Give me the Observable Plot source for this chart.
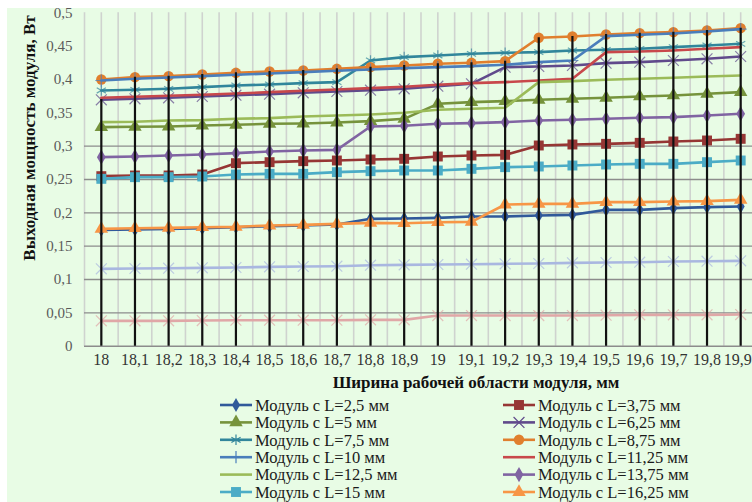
<!DOCTYPE html>
<html><head><meta charset="utf-8">
<script src="https://cdn.jsdelivr.net/npm/d3@7"></script>
<script src="https://cdn.jsdelivr.net/npm/@observablehq/plot@0.6"></script>
<style>
html,body{margin:0;padding:0;background:#fff;width:752px;height:502px;overflow:hidden;}
#bg{position:absolute;left:7px;top:8px;width:745px;height:494px;background:#e8fce5;}
#chart{position:absolute;left:0;top:0;}
#legend{position:absolute;left:0;top:395px;}
#ytitle{position:absolute;left:30px;top:138px;transform:translate(-50%,-50%) rotate(-90deg);white-space:nowrap;
  font-family:'Liberation Serif','Times New Roman',serif;font-weight:bold;font-size:17px;color:#111;}
</style></head><body>
<div id="bg"></div><div id="chart"></div><div id="ytitle">Выходная мощность модуля, Вт</div><div id="legend"></div>
<script>
// X categories: module working-area width, mm
const widths = [18,18.1,18.2,18.3,18.4,18.5,18.6,18.7,18.8,18.9,19,19.1,19.2,19.3,19.4,19.5,19.6,19.7,19.8,19.9];
const xTickLabels = ["18","18,1","18,2","18,3","18,4","18,5","18,6","18,7","18,8","18,9","19","19,1","19,2","19,3","19,4","19,5","19,6","19,7","19,8","19,9"];
const yTicks = [0,0.05,0.1,0.15,0.2,0.25,0.3,0.35,0.4,0.45,0.5];
const yTickLabels = ["0","0,05","0,1","0,15","0,2","0,25","0,3","0,35","0,4","0,45","0,5"];
const gridYTicks = [0.05,0.1,0.15,0.2,0.25,0.3];

const seriesNames = ["Модуль с L=2,5 мм","Модуль с L=3,75 мм","Модуль с L=5 мм","Модуль с L=6,25 мм","Модуль с L=7,5 мм","Модуль с L=8,75 мм","Модуль с L=10 мм","Модуль с L=11,25 мм","Модуль с L=12,5 мм","Модуль с L=13,75 мм","Модуль с L=15 мм","Модуль с L=16,25 мм","Модуль с L=17,5 мм","Модуль с L=18,75 мм"];

const s2_5   = [0.1745,0.175,0.176,0.177,0.1785,0.18,0.181,0.1825,0.191,0.1915,0.1925,0.1945,0.1945,0.196,0.197,0.2045,0.2045,0.207,0.2085,0.2095];
const s3_75  = [0.255,0.256,0.256,0.2575,0.2745,0.276,0.2775,0.2785,0.28,0.281,0.2845,0.286,0.287,0.301,0.3025,0.3035,0.305,0.307,0.3085,0.311];
const s5     = [0.3285,0.329,0.3295,0.331,0.332,0.3335,0.334,0.3355,0.3375,0.341,0.3635,0.366,0.3675,0.3695,0.371,0.3725,0.3745,0.376,0.3785,0.381];
const s6_25  = [0.3695,0.371,0.3725,0.3745,0.3765,0.378,0.38,0.382,0.384,0.386,0.39,0.3935,0.4185,0.4195,0.421,0.4245,0.426,0.4285,0.431,0.4345];
const s7_5   = [0.3835,0.3845,0.386,0.3885,0.391,0.3925,0.3945,0.396,0.4285,0.4335,0.436,0.4385,0.44,0.441,0.4435,0.4445,0.446,0.4485,0.451,0.4535];
const s8_75  = [0.4,0.4035,0.405,0.4075,0.41,0.412,0.4135,0.416,0.4185,0.421,0.4236,0.425,0.4275,0.4626,0.4645,0.4675,0.4695,0.471,0.4735,0.477];
const s10    = [0.3985,0.401,0.403,0.405,0.407,0.409,0.411,0.413,0.415,0.417,0.4185,0.42,0.422,0.426,0.4285,0.465,0.467,0.469,0.472,0.4755];
const s11_25 = [0.3725,0.374,0.3755,0.377,0.379,0.381,0.383,0.385,0.387,0.389,0.392,0.3945,0.396,0.3985,0.401,0.441,0.442,0.4435,0.446,0.4485];
const s12_5  = [0.336,0.3365,0.3385,0.339,0.341,0.342,0.3445,0.346,0.3475,0.35,0.3545,0.356,0.3575,0.396,0.3975,0.3995,0.401,0.4025,0.4045,0.406];
const s13_75 = [0.2835,0.2845,0.286,0.2875,0.2895,0.292,0.2935,0.2945,0.3295,0.3305,0.3335,0.3345,0.336,0.3385,0.3395,0.341,0.3425,0.3435,0.346,0.3485];
const s15    = [0.251,0.2535,0.2535,0.2545,0.2575,0.2585,0.2585,0.261,0.2625,0.2635,0.2635,0.266,0.2685,0.2695,0.271,0.2725,0.2735,0.2735,0.276,0.2785];
const s16_25 = [0.176,0.177,0.1775,0.1785,0.179,0.181,0.182,0.1835,0.185,0.1845,0.186,0.1865,0.2125,0.2135,0.2135,0.216,0.216,0.217,0.2175,0.2195];
const s17_5  = [0.116,0.1165,0.117,0.1175,0.118,0.119,0.1195,0.12,0.1215,0.122,0.1225,0.123,0.1235,0.124,0.125,0.1255,0.126,0.127,0.1275,0.128];
const s18_75 = [0.038,0.038,0.038,0.0385,0.039,0.039,0.039,0.039,0.0395,0.0395,0.046,0.046,0.046,0.046,0.046,0.0465,0.047,0.047,0.047,0.0475];
// top of the black drop lines at each category
const dropLineTop = [0.37,0.4035,0.405,0.4075,0.41,0.412,0.4135,0.416,0.4185,0.421,0.4236,0.425,0.4275,0.4626,0.4645,0.4675,0.4695,0.471,0.4735,0.477];

const seriesValues = [s2_5,s3_75,s5,s6_25,s7_5,s8_75,s10,s11_25,s12_5,s13_75,s15,s16_25,s17_5,s18_75];
// the legend visible in the picture lists the first 12 series
const legendCount = 12;

// styles
const seriesColors = ["#30599a","#963634","#76933c","#604a8b","#31869b","#e07f2e","#4a7ebb","#c8484b","#9bbb59","#8064a2","#4bacc6","#f79646","#a9b7e0","#e0a7a7"];
const seriesSymbols = ["diamond","square","triangle","times","asterisk","circle","plus",null,null,"diamond","square","triangle","times","times"];
const seriesR = [4.2,5.6,5,5,5,5.2,4,0,0,4.6,5.6,5,5,5];
const strokeSymbols = new Set(["times","asterisk","plus"]);

const serif = "'Liberation Serif','Times New Roman',serif";
const lastIdx = widths.length - 1;

const marks = [
  Plot.ruleX(d3.range(0,41).map(k => 17.95 + k*0.05), {stroke:"#cfd3cf", strokeWidth:1.6}),
  Plot.ruleY(gridYTicks, {stroke:"#8c8c8c", strokeWidth:1.3}),
  Plot.ruleY([0], {stroke:"#8c8c8c", strokeWidth:1.5}),
];
seriesNames.forEach((name, k) => {
  const rows = widths.map((w,i) => ({x:w, y:seriesValues[k][i]}));
  marks.push(Plot.line(rows, {x:"x", y:"y", stroke:seriesColors[k], strokeWidth:2.6}));
  const sym = seriesSymbols[k];
  if (sym) {
    if (strokeSymbols.has(sym)) {
      marks.push(Plot.dot(rows, {x:"x", y:"y", symbol:sym, r:seriesR[k], stroke:seriesColors[k], strokeWidth:1.2, strokeOpacity:0.7, fill:"none"}));
    } else {
      marks.push(Plot.dot(rows, {x:"x", y:"y", symbol:sym, r:seriesR[k], fill:seriesColors[k], stroke:"none"}));
    }
  }
});
marks.push(Plot.ruleX(widths.map((w,i)=>({x:w, top:dropLineTop[i]})), {x:"x", y1:0, y2:"top", stroke:"#111", strokeWidth:2.2}));
marks.push(Plot.text(yTicks, {y:d=>d, text:(d,i)=>yTickLabels[i], frameAnchor:"left", textAnchor:"end", dx:-12, fontSize:15, fontFamily:serif, fill:"#5a5a5a", letterSpacing:"0.5px"}));
marks.push(Plot.text(widths.slice(0, lastIdx), {x:d=>d, text:(d,i)=>xTickLabels[i], frameAnchor:"bottom", dy:19, fontSize:16, fontFamily:serif, fill:"#333", letterSpacing:"1px"}));
// last tick label kept inside the page edge
marks.push(Plot.text([widths[lastIdx]], {x:d=>d, text:() => xTickLabels[lastIdx], frameAnchor:"bottom", dy:19, dx:11, textAnchor:"end", fontSize:16, fontFamily:serif, fill:"#333", letterSpacing:"0.5px"}));
marks.push(Plot.text(["Ширина рабочей области модуля, мм"], {text:d=>d, frameAnchor:"bottom", dx:55, dy:42, fontSize:17, fontWeight:"bold", fontFamily:serif, fill:"#111"}));

const chart = Plot.plot({
  width:757, height:396,
  marginLeft:84, marginRight:0, marginTop:12.3, marginBottom:396-345.7,
  x:{type:"linear", domain:[17.95,19.95], axis:null},
  y:{domain:[0,0.5], axis:null},
  style:{background:"transparent", overflow:"visible", maxWidth:"none"},
  marks
});
document.getElementById("chart").appendChild(chart);

// Legend (two columns, row-wise like Excel)
const leg = d3.select("#legend").append("svg").attr("width",752).attr("height",107);
const symMap = {diamond:d3.symbolDiamond, square:d3.symbolSquare, triangle:d3.symbolTriangle, circle:d3.symbolCircle, times:d3.symbolTimes, asterisk:d3.symbolAsterisk, plus:d3.symbolPlus};
seriesNames.slice(0, legendCount).forEach((name,k) => {
  const col = k % 2, row = Math.floor(k/2);
  const x0 = col === 0 ? 220 : 503, y0 = 10 + row*17.4;
  const g = leg.append("g").attr("transform", `translate(${x0},${y0})`);
  g.append("line").attr("x1",0).attr("x2",32).attr("y1",0).attr("y2",0).attr("stroke",seriesColors[k]).attr("stroke-width",2.6);
  const sym = seriesSymbols[k];
  if (sym) {
    const size = Math.PI*seriesR[k]*seriesR[k];
    const p = g.append("path").attr("transform","translate(16,0)").attr("d", d3.symbol(symMap[sym], size)());
    if (strokeSymbols.has(sym)) p.attr("fill","none").attr("stroke",seriesColors[k]).attr("stroke-width",1.2);
    else p.attr("fill",seriesColors[k]);
  }
  g.append("text").attr("x",35).attr("y",0).attr("dy","0.35em").attr("font-family",serif).attr("font-size",16.5).attr("fill","#1a1a1a").text(name);
});
</script>
</body></html>
